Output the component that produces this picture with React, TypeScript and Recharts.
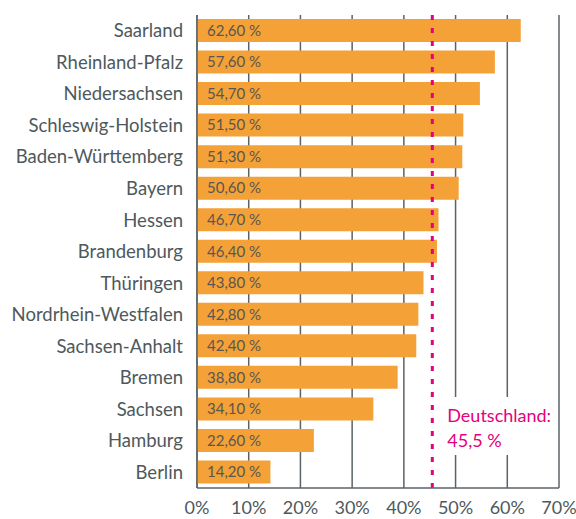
import { BarChart, Bar, XAxis, YAxis, CartesianGrid, ReferenceLine, LabelList } from 'recharts';

const states = [
    'Saarland',
    'Rheinland-Pfalz',
    'Niedersachsen',
    'Schleswig-Holstein',
    'Baden-Württemberg',
    'Bayern',
    'Hessen',
    'Brandenburg',
    'Thüringen',
    'Nordrhein-Westfalen',
    'Sachsen-Anhalt',
    'Bremen',
    'Sachsen',
    'Hamburg',
    'Berlin',
];
const shares = [62.6, 57.6, 54.7, 51.5, 51.3, 50.6, 46.7, 46.4, 43.8, 42.8, 42.4, 38.8, 34.1, 22.6, 14.2];
const xTicks = [0, 10, 20, 30, 40, 50, 60, 70];
const germanyAverage = 45.5;
const germanyLabel = 'Deutschland:';

const data = states.map((name, i) => ({ name, value: shares[i] }));

const font = 'Lato, "Open Sans", sans-serif';
const gridColor = '#5b6367';
const textColor = '#4e595c';
const barColor = '#f4a137';
const pink = '#e5007d';

const fmtPct = (v: number) => v.toFixed(2).replace('.', ',') + ' %';

export default function App() {
    const renderAverageLabel = (props: any) => {
        const { x, y, height } = props.viewBox;
        const bottom = y + height;
        return (
            <g>
                <rect x={x + 7} y={bottom - 91} width={117} height={58} fill='#ffffff' />
                <text x={x + 15} y={bottom - 66} fill={pink} fontSize={18} fontFamily={font}>
                    {germanyLabel}
                </text>
                <text x={x + 15} y={bottom - 41} fill={pink} fontSize={18} fontFamily={font}>
                    {String(germanyAverage).replace('.', ',')} %
                </text>
            </g>
        );
    };

    return (
        <div style={{ position: 'absolute', left: 0, top: 0, background: '#fff' }}>
            <BarChart
                width={576}
                height={519}
                data={data}
                layout='vertical'
                margin={{ top: 15, right: 17, bottom: 0, left: 0 }}
            >
                <CartesianGrid horizontal={false} stroke={gridColor} strokeWidth={1.5} />
                <XAxis
                    type='number'
                    domain={[0, 70]}
                    ticks={xTicks}
                    tickFormatter={(v: number) => v + '%'}
                    axisLine={{ stroke: gridColor, strokeWidth: 1.5 }}
                    tickLine={false}
                    tickSize={0}
                    tickMargin={13}
                    height={31}
                    interval={0}
                    tick={{ fill: textColor, fontSize: 18, fontFamily: font }}
                />
                <YAxis
                    type='category'
                    dataKey='name'
                    width={197}
                    axisLine={{ stroke: gridColor, strokeWidth: 1.5 }}
                    tickLine={false}
                    tickSize={0}
                    tickMargin={14}
                    interval={0}
                    tick={{ fill: textColor, fontSize: 18.5, fontFamily: font }}
                />
                <Bar dataKey='value' fill={barColor} barSize={23} isAnimationActive={false}>
                    <LabelList
                        dataKey='value'
                        position='insideLeft'
                        offset={10}
                        formatter={(v: any) => fmtPct(Number(v))}
                        fill='#5a5651'
                        fontSize={15}
                        fontFamily={font}
                    />
                </Bar>
                <ReferenceLine
                    x={germanyAverage}
                    stroke={pink}
                    strokeWidth={3}
                    strokeDasharray='5 8'
                    label={renderAverageLabel}
                />
            </BarChart>
        </div>
    );
}
